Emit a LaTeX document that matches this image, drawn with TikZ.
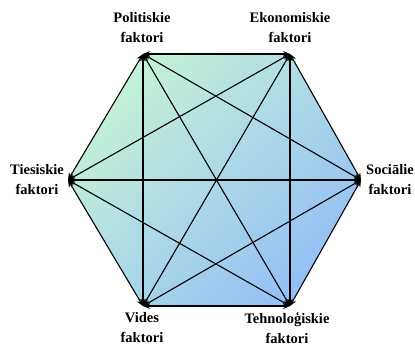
\documentclass[tikz,border=0pt]{standalone}
\usepackage{fontspec}
\setmainfont{Liberation Serif}
\usetikzlibrary{arrows.meta}

\definecolor{hexgreen}{RGB}{196,242,214}
\definecolor{hexblue}{RGB}{148,192,246}

\tikzset{
  factor/.style={align=center, font=\fontsize{14.5}{20}\selectfont\bfseries, inner sep=0pt},
  link/.style={line width=1.1pt, {Stealth[length=7pt,width=6pt]}-{Stealth[length=7pt,width=6pt]}}
}

\begin{document}
\begin{tikzpicture}[x=1pt,y=-1pt]
   \useasboundingbox (0,0) rectangle (415,347);
   % corners of the hexagon
   \coordinate (ties) at (68,180);
   \coordinate (pol)  at (143,54);
   \coordinate (eko)  at (290,54);
   \coordinate (soc)  at (361,180);
   \coordinate (teh)  at (290,306);
   \coordinate (vid)  at (143,306);
   \shade[top color=hexgreen, bottom color=hexblue, shading angle=45]
      (ties) -- (pol) -- (eko) -- (soc) -- (teh) -- (vid) -- cycle;
   % labels
   \node[factor] (polT)  at (142,28)  {Politiskie\\faktori};
   \node[factor] (ekoT)  at (290,28)  {Ekonomiskie\\faktori};
   \node[factor] (tiesT) at (37,180)  {Tiesiskie\\faktori};
   \node[factor] (socT)  at (390,180) {Sociālie\\faktori};
   \node[factor] (vidT)  at (142,328) {Vides\\faktori};
   \node[factor] (tehT)  at (287,328) {Tehnoloģiskie\\faktori};
   % every pair of factors
   \foreach \a/\b in {ties/pol, ties/eko, ties/soc, ties/teh, ties/vid,
                      pol/eko, pol/soc, pol/teh, pol/vid,
                      eko/soc, eko/teh, eko/vid,
                      soc/teh, soc/vid,
                      teh/vid}
      \draw[link] (\a) -- (\b);
\end{tikzpicture}
\end{document}
